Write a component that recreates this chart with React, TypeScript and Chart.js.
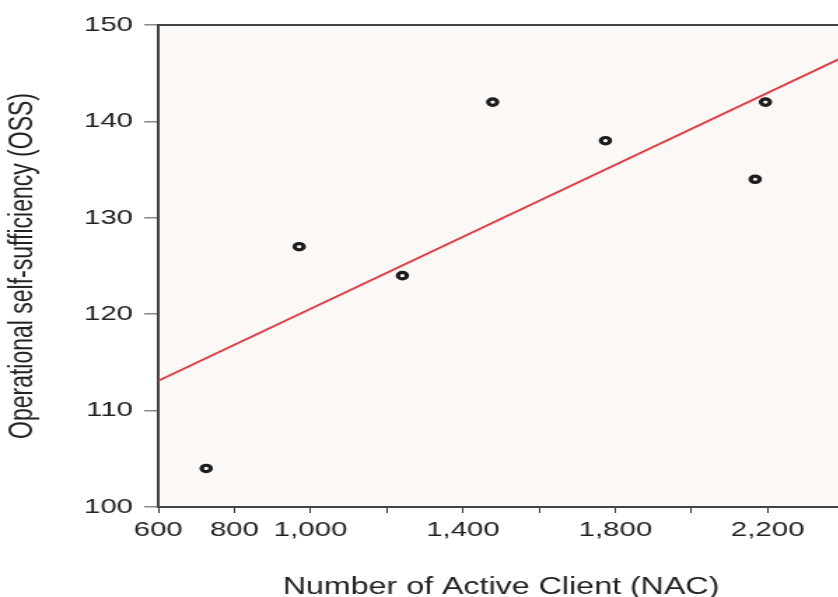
import React, { useEffect, useRef } from 'react';
import { Chart, registerables } from 'chart.js';

Chart.register(...registerables);

// Data
const nac = [726, 970, 1241, 1478, 1774, 2167, 2194];
const oss = [104, 127, 124, 142, 138, 134, 142];
const fitX = [600, 2400];
const fitY = [113.1, 146.7];
const xTickLabels = [600, 800, 1000, 1400, 1800, 2200];
const xTitle = 'Number of Active Client (NAC)';
const yTitle = 'Operational self-sufficiency (OSS)';

const STRETCH = 1.4;
const W = 610;
const H = 601;
const FONT = "'Liberation Sans', Arial, Helvetica, sans-serif";

const bgPlugin = {
  id: 'plotBg',
  beforeDraw(chart: any) {
    const { ctx, chartArea: a } = chart;
    ctx.save();
    ctx.fillStyle = '#FCF8F5';
    ctx.fillRect(a.left, a.top, a.right - a.left, a.bottom - a.top);
    ctx.strokeStyle = '#444';
    ctx.lineWidth = 2;
    ctx.beginPath();
    ctx.moveTo(a.left, a.top);
    ctx.lineTo(a.right + 2, a.top);
    ctx.stroke();
    ctx.restore();
  },
};

export default function App() {
  const ref = useRef<HTMLCanvasElement>(null);
  useEffect(() => {
    const chart = new Chart(ref.current as HTMLCanvasElement, {
      type: 'scatter',
      data: {
        datasets: [
          {
            data: nac.map((x, i) => ({ x, y: oss[i] })),
            showLine: false,
            pointRadius: 3.2,
            pointBorderWidth: 3.2,
            pointBackgroundColor: 'rgba(0,0,0,0)',
            pointBorderColor: '#1c1c1c',
            order: 0,
          },
          {
            data: fitX.map((x, i) => ({ x, y: fitY[i] })),
            showLine: true,
            borderColor: '#E8323C',
            borderWidth: 1.8,
            pointRadius: 0,
            order: 1,
          },
        ],
      },
      options: {
        responsive: false,
        animation: false,
        devicePixelRatio: 1,
        layout: { padding: { top: 25, right: 0, left: 0, bottom: 0 } },
        plugins: { legend: { display: false }, tooltip: { enabled: false } },
        scales: {
          x: {
            type: 'linear',
            min: 600,
            max: 2400,
            afterFit: (s: any) => {
              s.height = 94;
            },
            ticks: {
              stepSize: 200,
              autoSkip: false,
              maxRotation: 0,
              padding: 5,
              color: '#222',
              font: { family: FONT, size: 21 },
              callback: (v: any) =>
                xTickLabels.includes(Number(v)) ? Number(v).toLocaleString('en-US') : '',
            },
            grid: {
              drawOnChartArea: false,
              drawTicks: true,
              tickLength: 6,
              color: '#333',
              lineWidth: 1,
            },
            border: { display: true, color: '#444', width: 2 },
            title: {
              display: true,
              text: xTitle,
              color: '#222',
              font: { family: FONT, size: 23 },
              padding: { top: 0, bottom: 0 },
            },
          },
          y: {
            type: 'linear',
            min: 100,
            max: 150,
            afterFit: (s: any) => {
              s.width = 113;
            },
            ticks: {
              stepSize: 10,
              padding: 8,
              color: '#222',
              font: { family: FONT, size: 21 },
            },
            grid: {
              drawOnChartArea: false,
              drawTicks: true,
              tickLength: 10,
              color: '#888',
              lineWidth: 1.5,
            },
            border: { display: true, color: '#444', width: 2 },
            title: {
              display: true,
              text: yTitle,
              color: '#222',
              font: { family: FONT, size: 23 },
              padding: { top: 3, bottom: 0 },
            },
          },
        },
      },
      plugins: [bgPlugin],
    } as any);
    return () => chart.destroy();
  }, []);

  return (
    <div
      style={{
        position: 'fixed',
        left: 0,
        top: 0,
        width: 838,
        height: 597,
        overflow: 'hidden',
        background: '#fff',
      }}
    >
      <canvas
        ref={ref}
        width={W}
        height={H}
        style={{
          width: W,
          height: H,
          display: 'block',
          transform: `scaleX(${STRETCH})`,
          transformOrigin: '0 0',
        }}
      />
    </div>
  );
}
